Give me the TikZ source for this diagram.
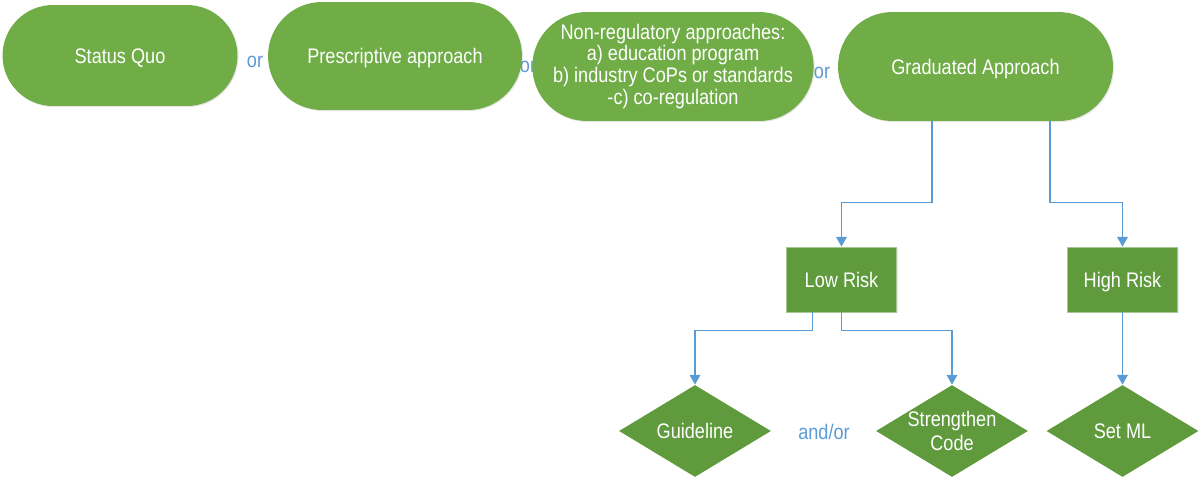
\documentclass[tikz,border=0pt]{standalone}
\usepackage{fontspec}
\setmainfont{Liberation Sans}[FakeStretch=0.86]
\usetikzlibrary{shapes.misc,shapes.geometric,arrows.meta,shadows}
\definecolor{approachgreen}{HTML}{70AD47}
\definecolor{riskgreen}{HTML}{5F9A3D}
\definecolor{linkblue}{HTML}{5B9BD5}
\begin{document}
\begin{tikzpicture}[x=0.02cm, y=-0.02cm,
		approach/.style={rounded rectangle, fill=approachgreen, text=white, inner sep=0pt, align=center, font=\fontsize{12}{12.5}\selectfont, drop shadow={opacity=0.2, shadow xshift=0.6pt, shadow yshift=-0.6pt}},
		riskbox/.style={rectangle, fill=riskgreen, draw=riskgreen!55!white, line width=0.4pt, text=white, minimum width=2.2cm, minimum height=1.3cm, inner sep=0pt, oneline, font=\fontsize{12}{12.5}\selectfont, drop shadow={opacity=0.2, shadow xshift=0.6pt, shadow yshift=-0.6pt}},
		actiondiamond/.style={diamond, aspect=1.65, fill=riskgreen, text=white, minimum width=3.04cm, minimum height=1.84cm, inner xsep=-0.25cm, inner ysep=-0.1cm, align=center, font=\fontsize{12}{13.5}\selectfont},
		oneline/.style={text height=8.6pt, text depth=0pt},
		ortext/.style={text=linkblue, font=\fontsize{12}{12.5}\selectfont},
		link/.style={linkblue, line width=0.75pt, -{Triangle[width=6pt,length=5.5pt]}}]
			\useasboundingbox (0,0) rectangle (1198,477);
			
			\node[ortext] (or1) at (255,62) {or};
			\node[ortext] (or2) at (528,67) {or};
			\node[ortext] (or3) at (822,73) {or};
			
			\node[approach, oneline, minimum width=4.7cm, minimum height=2.02cm] (sq) at (120,55.5) {Status Quo};
			\node[approach, oneline, minimum width=5.08cm, minimum height=2.16cm] (pa) at (395,56) {Prescriptive approach};
			\node[approach, minimum width=5.4cm, minimum height=2.18cm] (nr) at (673,66.5) {Non-regulatory approaches:\\ a) education program\\ b) industry CoPs or standards\\ -c) co-regulation};
			\node[approach, oneline, minimum width=5.5cm, minimum height=2.18cm] (ga) at (975.5,66.5) {Graduated Approach};
			
			\node[riskbox] (lr) at (841.5,279.5) {Low Risk};
			\node[riskbox] (hr) at (1122.5,279.5) {High Risk};
			
			\node[actiondiamond, oneline] (gl) at (695,431) {Guideline};
			\node[actiondiamond] (sc) at (952,431) {Strengthen\\Code};
			\node[actiondiamond, oneline] (sm) at (1122.5,431) {Set ML};
			\node[ortext] (andor) at (824,432) {and/or};
			
			\draw[link] ([xshift=-0.87cm]ga.south) -- ++(0,81) -| (lr.north);
			\draw[link] ([xshift=1.49cm]ga.south) -- ++(0,81) -| (hr.north);
			\draw[link] ([xshift=-0.58cm]lr.south) -- ++(0,18) -| (gl.north);
			\draw[link] (lr.south) -- ++(0,18) -| (sc.north);
			\draw[link] (hr.south) -- (sm.north);
		\end{tikzpicture}
\end{document}
